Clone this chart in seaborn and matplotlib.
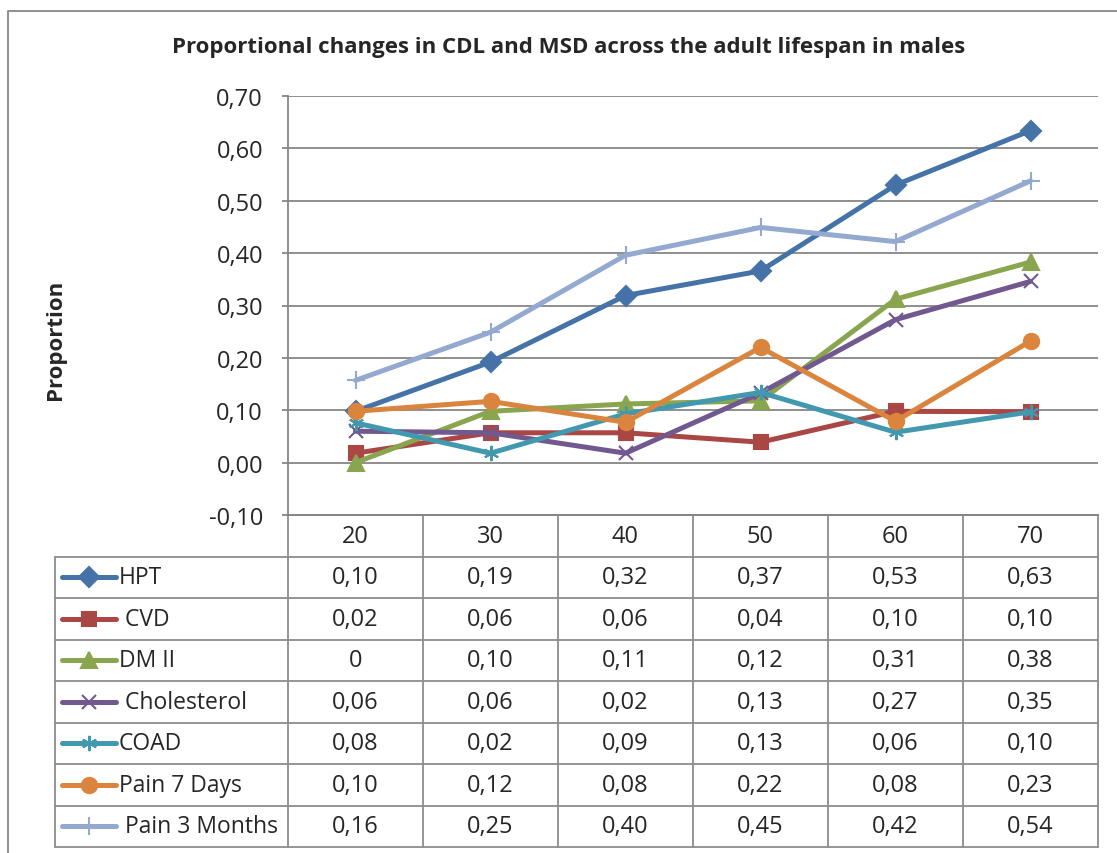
import numpy as np
import pandas as pd
import matplotlib
matplotlib.use('Agg')
import matplotlib.pyplot as plt
import seaborn as sns

# data
ages = ['20', '30', '40', '50', '60', '70']
series_names = ['HPT', ' CVD', 'DM II', ' Cholesterol', 'COAD', 'Pain 7 Days', ' Pain 3 Months']
hpt = [0.098, 0.192, 0.319, 0.366, 0.530, 0.634]
cvd = [0.018, 0.057, 0.057, 0.039, 0.098, 0.097]
dm2 = [0.0, 0.098, 0.112, 0.118, 0.312, 0.383]
cholesterol = [0.060, 0.057, 0.018, 0.133, 0.273, 0.346]
coad = [0.076, 0.018, 0.093, 0.134, 0.058, 0.097]
pain_7d = [0.098, 0.117, 0.077, 0.220, 0.079, 0.232]
pain_3m = [0.157, 0.249, 0.396, 0.449, 0.422, 0.538]
all_values = [hpt, cvd, dm2, cholesterol, coad, pain_7d, pain_3m]

colors = ['#4572A7', '#AA4643', '#89A54E', '#71588F', '#4198AF', '#DB843D', '#93A9CF']
markers = ['D', 's', '^', 'x', (6, 2, 0), 'o', '+']
msizes = [10, 10, 11, 10, 11, 11, 13]

df = pd.DataFrame({
    'series': np.repeat(series_names, len(ages)),
    'age': ages * len(series_names),
    'pos': list(range(len(ages))) * len(series_names),
    'value': np.concatenate(all_values),
})

sns.set_theme(style='white')
plt.rcParams['font.family'] = ['Open Sans', 'DejaVu Sans']

W, H = 1117, 854
fig = plt.figure(figsize=(W / 100, H / 100), dpi=100)

# overlay axes in pixel coordinates for border and data table
tab = fig.add_axes([0, 0, 1, 1])
tab.set_xlim(0, W)
tab.set_ylim(H, 0)
tab.axis('off')

px_left, px_right, px_top, px_bottom = 288, 1098, 97, 516
ax = fig.add_axes([px_left / W, 1 - px_bottom / H, (px_right - px_left) / W, (px_bottom - px_top) / H])
ax.patch.set_alpha(0)

grid_col = '#868686'
for i, name in enumerate(series_names):
    sub = df[df['series'] == name]
    sns.lineplot(data=sub, x='pos', y='value', ax=ax, color=colors[i], marker=markers[i],
                 markersize=msizes[i], markeredgecolor=colors[i], markeredgewidth=1.5,
                 linewidth=3.6, zorder=3 + i, legend=False)

ax.set_xlim(-0.5, len(ages) - 0.5)
ax.set_ylim(-0.1, 0.7)
yt = np.round(np.arange(-0.1, 0.71, 0.1), 2)
ax.set_yticks(yt)
ax.set_yticklabels([f'{v:.2f}'.replace('.', ',') for v in yt], fontsize=17)
ax.set_xticks([])
ax.set_xlabel('')
ax.set_ylabel('')
ax.yaxis.grid(True, color=grid_col, linewidth=1.3)
ax.tick_params(axis='y', length=4, width=1.3, color=grid_col, pad=14, left=True)
for s in ['top', 'right']:
    ax.spines[s].set_visible(False)
for s in ['left', 'bottom']:
    ax.spines[s].set_color(grid_col)
    ax.spines[s].set_linewidth(1.3)

# outer chart border
tab.plot([8, 8, W], [H, 12, 12], color=grid_col, lw=1.3)

fig.text(569 / W, 1 - 47 / H, 'Proportional changes in CDL and MSD across the adult lifespan in males',
         ha='center', va='center', fontsize=16, fontweight='bold')
fig.text(55 / W, 1 - 340 / H, 'Proportion', ha='center', va='center', rotation=90,
         fontsize=16, fontweight='bold')

# data table
col_edges = np.linspace(px_left, px_right, len(ages) + 1)
col_centers = (col_edges[:-1] + col_edges[1:]) / 2
row_edges = np.linspace(516, 848, len(series_names) + 2)
lc = '#8C8C8C'
for x in col_edges:
    tab.plot([x, x], [row_edges[0], row_edges[-1]], color=lc, lw=1.3)
tab.plot([55, 55], [row_edges[1], row_edges[-1]], color=lc, lw=1.3)
for j, y in enumerate(row_edges):
    x0 = px_left if j == 0 else 55
    tab.plot([x0, px_right], [y, y], color=lc, lw=1.3)

hdr_y = (row_edges[0] + row_edges[1]) / 2
for xc, a in zip(col_centers, ages):
    tab.text(xc, hdr_y, a, ha='center', va='center', fontsize=17)

for i, (name, vals) in enumerate(zip(series_names, all_values)):
    yc = (row_edges[i + 1] + row_edges[i + 2]) / 2
    tab.plot([62, 116], [yc, yc], color=colors[i], lw=3.6, solid_capstyle='round')
    tab.plot([89], [yc], color=colors[i], marker=markers[i], markersize=msizes[i],
             markeredgecolor=colors[i], markeredgewidth=1.5)
    tab.text(119, yc, name, ha='left', va='center', fontsize=16.5)
    for xc, v in zip(col_centers, vals):
        txt = '0' if v == 0 else f'{v:.2f}'.replace('.', ',')
        tab.text(xc, yc, txt, ha='center', va='center', fontsize=17)

fig.savefig('out.png', dpi=100)
